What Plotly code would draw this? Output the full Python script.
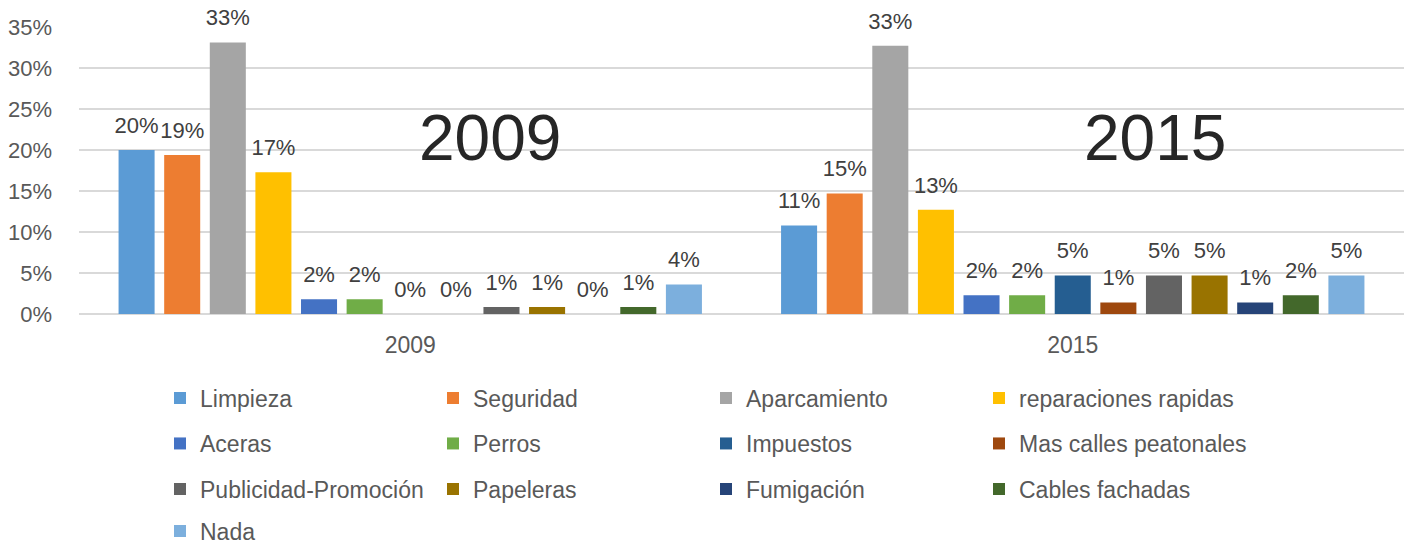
import plotly.graph_objects as go

years = ["2009", "2015"]
categories = [
    "Limpieza", "Seguridad", "Aparcamiento", "reparaciones rapidas",
    "Aceras", "Perros", "Impuestos", "Mas calles peatonales",
    "Publicidad-Promoción", "Papeleras", "Fumigación", "Cables fachadas",
    "Nada",
]
values_2009 = [0.200, 0.194, 0.331, 0.173, 0.018, 0.018, 0.0, 0.0, 0.0085, 0.0085, 0.0, 0.0085, 0.036]
values_2015 = [0.108, 0.147, 0.327, 0.127, 0.023, 0.023, 0.047, 0.014, 0.047, 0.047, 0.014, 0.023, 0.047]
colors = [
    "#5B9BD5", "#ED7D31", "#A5A5A5", "#FFC000",
    "#4472C4", "#70AD47", "#255E91", "#9E480E",
    "#636363", "#997300", "#264478", "#43682B",
    "#7CAFDD",
]
big_labels = ["2009", "2015"]

FONT = "Liberation Sans, Arial, sans-serif"
W, H = 1416, 544
L, R, T, B = 79, 12, 27, 230
plot_w, plot_h = W - L - R, H - T - B

fig = go.Figure()
legend_names = ["legend", "legend2", "legend3", "legend4"]

for i, (cat, col) in enumerate(zip(categories, colors)):
    ys = [values_2009[i], values_2015[i]]
    fig.add_trace(go.Bar(
        x=years, y=ys, name=cat, marker=dict(color=col, line=dict(width=0)),
        legend=legend_names[i // 4],
    ))
    # invisible markers carry the value labels (gives Excel-like spacing above bars)
    fig.add_trace(go.Scatter(
        x=years, y=ys, mode="markers+text", showlegend=False, hoverinfo="skip",
        marker=dict(size=17, opacity=0, color=col),
        texttemplate="%{y:.0%}", textposition="top center",
        textfont=dict(family=FONT, size=22, color="#404040"),
        cliponaxis=False,
    ))

# big year labels inside the plot
for j, lab in enumerate(big_labels):
    fig.add_annotation(
        x=[0.310, 0.812][j], y=0.613, xref="paper", yref="paper",
        xanchor="center", yanchor="middle",
        text=lab, showarrow=False, font=dict(family=FONT, size=64, color="#262626"),
    )

# one legend per row so the row spacing matches the original
row_px = [398, 443.5, 489, 531]
legends = {}
for k, name in enumerate(legend_names):
    legends[name] = dict(
        orientation="h", xref="container", yref="container",
        x=160 / W, xanchor="left",
        y=1 - row_px[k] / H, yanchor="middle",
        entrywidth=228, bgcolor="rgba(0,0,0,0)", traceorder="normal",
        font=dict(family=FONT, size=23, color="#595959"),
    )

fig.update_layout(
    width=W, height=H,
    margin=dict(l=L, r=R, t=T, b=B, autoexpand=False),
    paper_bgcolor="white", plot_bgcolor="white",
    barmode="group", bargap=0.105, bargroupgap=0.21,
    scattermode="group", scattergap=0.105,
    font=dict(family=FONT, color="#595959"),
    **legends,
)
fig.update_xaxes(
    type="category", range=[-0.5, 1.5], showgrid=False, showline=False,
    automargin=False,
    tickfont=dict(family=FONT, size=23, color="#595959"), ticklabelstandoff=15,
)
fig.update_yaxes(
    range=[0, 0.35], dtick=0.05, tickformat=".0%", automargin=False,
    showgrid=True, gridcolor="#D9D9D9", gridwidth=2,
    zeroline=True, zerolinecolor="#D9D9D9", zerolinewidth=2,
    tickfont=dict(family=FONT, size=22, color="#595959"), ticklabelstandoff=26,
)

# drop the browser's default body margin so the figure fills the window
fig.write_html(
    "out.html",
    config={"displayModeBar": False},
    post_script="document.body.style.margin = '0';",
)
